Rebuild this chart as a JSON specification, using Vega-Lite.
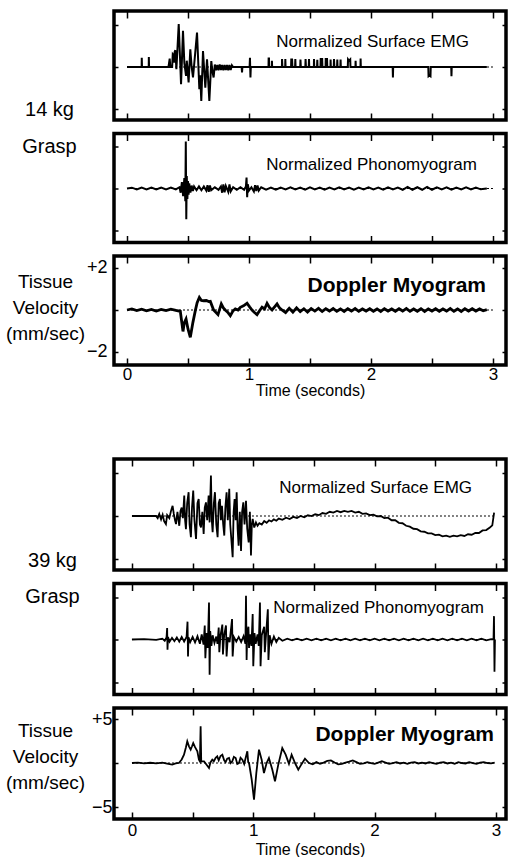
{
"$schema":"https://vega.github.io/schema/vega-lite/v6.json",
"padding":{"left":3,"top":8,"right":5,"bottom":0},
"spacing":56,
"datasets":{
"emg14":[{"t":0,"v":0},{"t":0.06,"v":0},{"t":0.12,"v":0},{"t":0.121,"v":0.22},{"t":0.123,"v":0},{"t":0.178,"v":0},{"t":0.179,"v":0.24},{"t":0.181,"v":0},{"t":0.34,"v":0},{"t":0.35,"v":0.2},{"t":0.355,"v":0},{"t":0.37,"v":0},{"t":0.375,"v":0.3},{"t":0.38,"v":0.28},{"t":0.385,"v":0.1},{"t":0.39,"v":0.35},{"t":0.396,"v":0.4},{"t":0.405,"v":-0.05},{"t":0.424,"v":1.02},{"t":0.443,"v":-0.41},{"t":0.459,"v":0.86},{"t":0.47,"v":0.1},{"t":0.484,"v":-0.21},{"t":0.49,"v":0.15},{"t":0.505,"v":-0.37},{"t":0.519,"v":0.42},{"t":0.53,"v":0},{"t":0.541,"v":-0.25},{"t":0.555,"v":0.2},{"t":0.574,"v":0.82},{"t":0.593,"v":-0.53},{"t":0.6,"v":-0.2},{"t":0.609,"v":-0.81},{"t":0.623,"v":0.38},{"t":0.642,"v":-0.49},{"t":0.656,"v":0.18},{"t":0.675,"v":-0.81},{"t":0.691,"v":0.14},{"t":0.7,"v":-0.1},{"t":0.71,"v":-0.25},{"t":0.72,"v":0.06},{"t":0.73,"v":-0.08},{"t":0.74,"v":0.05},{"t":0.75,"v":-0.08},{"t":0.76,"v":0.06},{"t":0.77,"v":-0.07},{"t":0.78,"v":0.05},{"t":0.79,"v":-0.08},{"t":0.8,"v":0.05},{"t":0.81,"v":-0.07},{"t":0.82,"v":0.05},{"t":0.83,"v":-0.08},{"t":0.84,"v":0.05},{"t":0.85,"v":-0.07},{"t":0.86,"v":0.04},{"t":0.87,"v":0},{"t":0.94,"v":0},{"t":0.943,"v":-0.13},{"t":0.946,"v":0},{"t":1.005,"v":0},{"t":1.008,"v":0.22},{"t":1.012,"v":-0.25},{"t":1.015,"v":0},{"t":1.16,"v":0},{"t":1.161,"v":0.2},{"t":1.164,"v":0.2},{"t":1.165,"v":0},{"t":1.187,"v":0},{"t":1.188,"v":0.15},{"t":1.19,"v":0},{"t":1.27,"v":0},{"t":1.271,"v":0.19},{"t":1.274,"v":0},{"t":1.297,"v":0},{"t":1.298,"v":0.19},{"t":1.3,"v":0},{"t":1.345,"v":0},{"t":1.347,"v":0.2},{"t":1.35,"v":0.05},{"t":1.353,"v":0.2},{"t":1.356,"v":0},{"t":1.378,"v":0},{"t":1.38,"v":0.19},{"t":1.382,"v":0},{"t":1.42,"v":0},{"t":1.422,"v":0.18},{"t":1.425,"v":0},{"t":1.462,"v":0},{"t":1.464,"v":0.19},{"t":1.467,"v":0},{"t":1.49,"v":0},{"t":1.492,"v":0.19},{"t":1.494,"v":0},{"t":1.532,"v":0},{"t":1.533,"v":0.19},{"t":1.535,"v":0},{"t":1.558,"v":0},{"t":1.56,"v":0.17},{"t":1.562,"v":0},{"t":1.586,"v":0},{"t":1.588,"v":0.19},{"t":1.6,"v":0.19},{"t":1.602,"v":0},{"t":1.628,"v":0},{"t":1.629,"v":0.19},{"t":1.64,"v":0.19},{"t":1.642,"v":0},{"t":1.668,"v":0},{"t":1.669,"v":0.18},{"t":1.671,"v":0},{"t":1.695,"v":0},{"t":1.697,"v":0.19},{"t":1.7,"v":0},{"t":1.722,"v":0},{"t":1.724,"v":0.18},{"t":1.726,"v":0},{"t":1.749,"v":0},{"t":1.751,"v":0.18},{"t":1.753,"v":0},{"t":1.81,"v":0},{"t":1.812,"v":0.18},{"t":1.82,"v":0.15},{"t":1.83,"v":0.18},{"t":1.832,"v":0},{"t":1.873,"v":0},{"t":1.874,"v":0.15},{"t":1.876,"v":0},{"t":1.914,"v":0},{"t":1.915,"v":0.2},{"t":1.917,"v":0},{"t":2.178,"v":0},{"t":2.18,"v":-0.25},{"t":2.182,"v":0},{"t":2.47,"v":0},{"t":2.472,"v":-0.22},{"t":2.48,"v":-0.2},{"t":2.488,"v":-0.22},{"t":2.49,"v":0},{"t":2.658,"v":0},{"t":2.66,"v":-0.22},{"t":2.662,"v":0},{"t":2.95,"v":0}],
"pmg14":[{"t":0,"v":0},{"t":0.04,"v":0.02},{"t":0.08,"v":-0.02},{"t":0.12,"v":0.02},{"t":0.16,"v":-0.02},{"t":0.2,"v":0.02},{"t":0.24,"v":-0.02},{"t":0.28,"v":0.02},{"t":0.32,"v":-0.02},{"t":0.36,"v":0.02},{"t":0.4,"v":-0.02},{"t":0.43,"v":0.03},{"t":0.44,"v":-0.1},{"t":0.45,"v":0.15},{"t":0.46,"v":-0.18},{"t":0.47,"v":0.25},{"t":0.478,"v":-0.3},{"t":0.482,"v":1.12},{"t":0.486,"v":-0.73},{"t":0.49,"v":0.3},{"t":0.495,"v":-0.25},{"t":0.5,"v":0.18},{"t":0.505,"v":-0.15},{"t":0.51,"v":0.12},{"t":0.52,"v":-0.1},{"t":0.53,"v":0.07},{"t":0.54,"v":-0.06},{"t":0.55,"v":0.05},{"t":0.57,"v":-0.04},{"t":0.59,"v":0.05},{"t":0.61,"v":-0.04},{"t":0.63,"v":0.05},{"t":0.65,"v":-0.05},{"t":0.66,"v":0.08},{"t":0.67,"v":-0.08},{"t":0.68,"v":0.07},{"t":0.69,"v":-0.04},{"t":0.72,"v":0.03},{"t":0.75,"v":-0.03},{"t":0.77,"v":0.05},{"t":0.78,"v":-0.1},{"t":0.79,"v":0.1},{"t":0.8,"v":-0.09},{"t":0.81,"v":0.06},{"t":0.83,"v":-0.08},{"t":0.84,"v":0.1},{"t":0.85,"v":-0.07},{"t":0.87,"v":0.03},{"t":0.9,"v":-0.03},{"t":0.93,"v":0.03},{"t":0.96,"v":-0.03},{"t":0.975,"v":0.05},{"t":0.98,"v":0.26},{"t":0.985,"v":-0.21},{"t":0.99,"v":0.1},{"t":1.0,"v":-0.05},{"t":1.02,"v":0.03},{"t":1.04,"v":-0.07},{"t":1.05,"v":0.08},{"t":1.06,"v":-0.06},{"t":1.07,"v":0.07},{"t":1.08,"v":-0.05},{"t":1.1,"v":0.03},{"t":1.14,"v":-0.03},{"t":1.18,"v":0.02},{"t":1.22,"v":-0.03},{"t":1.26,"v":0.02},{"t":1.3,"v":-0.02},{"t":1.34,"v":0.03},{"t":1.38,"v":-0.02},{"t":1.42,"v":0.02},{"t":1.46,"v":-0.03},{"t":1.5,"v":0.03},{"t":1.54,"v":-0.02},{"t":1.58,"v":0.02},{"t":1.62,"v":-0.03},{"t":1.66,"v":0.02},{"t":1.7,"v":-0.02},{"t":1.74,"v":0.03},{"t":1.78,"v":-0.02},{"t":1.82,"v":0.02},{"t":1.86,"v":-0.03},{"t":1.9,"v":0.02},{"t":1.94,"v":-0.02},{"t":1.98,"v":0.03},{"t":2.02,"v":-0.02},{"t":2.06,"v":0.02},{"t":2.1,"v":-0.03},{"t":2.14,"v":0.03},{"t":2.18,"v":-0.02},{"t":2.22,"v":0.02},{"t":2.26,"v":-0.03},{"t":2.3,"v":0.04},{"t":2.34,"v":-0.03},{"t":2.38,"v":0.03},{"t":2.42,"v":-0.03},{"t":2.46,"v":0.04},{"t":2.5,"v":-0.03},{"t":2.54,"v":0.03},{"t":2.58,"v":-0.02},{"t":2.62,"v":0.03},{"t":2.66,"v":-0.03},{"t":2.7,"v":0.02},{"t":2.74,"v":-0.02},{"t":2.78,"v":0.03},{"t":2.82,"v":-0.02},{"t":2.86,"v":0.02},{"t":2.9,"v":-0.02},{"t":2.95,"v":0}],
"dop14":[{"t":0,"v":0},{"t":0.04,"v":0.05},{"t":0.08,"v":-0.03},{"t":0.12,"v":0.04},{"t":0.16,"v":-0.04},{"t":0.2,"v":0.03},{"t":0.24,"v":-0.05},{"t":0.28,"v":0.03},{"t":0.32,"v":-0.03},{"t":0.36,"v":0.04},{"t":0.4,"v":-0.02},{"t":0.437,"v":-0.06},{"t":0.459,"v":-1.02},{"t":0.47,"v":-0.6},{"t":0.484,"v":-0.43},{"t":0.5,"v":-0.9},{"t":0.519,"v":-1.3},{"t":0.54,"v":-0.6},{"t":0.56,"v":-0.03},{"t":0.575,"v":0.35},{"t":0.593,"v":0.6},{"t":0.61,"v":0.45},{"t":0.628,"v":0.44},{"t":0.65,"v":0.45},{"t":0.67,"v":0.4},{"t":0.683,"v":0.41},{"t":0.71,"v":0},{"t":0.746,"v":-0.22},{"t":0.773,"v":0.29},{"t":0.79,"v":0.1},{"t":0.805,"v":0},{"t":0.825,"v":-0.1},{"t":0.847,"v":-0.27},{"t":0.868,"v":-0.05},{"t":0.888,"v":0.05},{"t":0.91,"v":0},{"t":0.929,"v":0.13},{"t":0.955,"v":0.2},{"t":0.984,"v":0.32},{"t":1.005,"v":0.15},{"t":1.025,"v":0},{"t":1.045,"v":-0.12},{"t":1.066,"v":-0.22},{"t":1.085,"v":-0.05},{"t":1.107,"v":0.13},{"t":1.128,"v":0.05},{"t":1.148,"v":0.32},{"t":1.17,"v":0.1},{"t":1.189,"v":0},{"t":1.21,"v":0.15},{"t":1.23,"v":0.29},{"t":1.25,"v":0.1},{"t":1.27,"v":0},{"t":1.3,"v":-0.12},{"t":1.33,"v":0.08},{"t":1.36,"v":-0.1},{"t":1.39,"v":0.1},{"t":1.42,"v":-0.08},{"t":1.45,"v":0.06},{"t":1.48,"v":-0.1},{"t":1.51,"v":0.07},{"t":1.54,"v":-0.05},{"t":1.57,"v":0.08},{"t":1.6,"v":-0.07},{"t":1.63,"v":0.06},{"t":1.66,"v":-0.05},{"t":1.69,"v":0.07},{"t":1.72,"v":-0.06},{"t":1.75,"v":0.05},{"t":1.78,"v":-0.07},{"t":1.81,"v":0.06},{"t":1.84,"v":-0.05},{"t":1.87,"v":0.07},{"t":1.9,"v":-0.06},{"t":1.93,"v":0.05},{"t":1.96,"v":-0.05},{"t":1.99,"v":0.06},{"t":2.02,"v":-0.06},{"t":2.05,"v":0.05},{"t":2.08,"v":-0.07},{"t":2.11,"v":0.06},{"t":2.14,"v":-0.05},{"t":2.17,"v":0.05},{"t":2.2,"v":-0.06},{"t":2.23,"v":0.06},{"t":2.26,"v":-0.05},{"t":2.29,"v":0.07},{"t":2.32,"v":-0.06},{"t":2.35,"v":0.05},{"t":2.38,"v":-0.06},{"t":2.41,"v":0.06},{"t":2.44,"v":-0.07},{"t":2.47,"v":0.05},{"t":2.5,"v":-0.05},{"t":2.53,"v":0.06},{"t":2.56,"v":-0.06},{"t":2.59,"v":0.05},{"t":2.62,"v":-0.05},{"t":2.65,"v":0.07},{"t":2.68,"v":-0.06},{"t":2.71,"v":0.05},{"t":2.74,"v":-0.07},{"t":2.77,"v":0.06},{"t":2.8,"v":-0.05},{"t":2.83,"v":0.06},{"t":2.86,"v":-0.05},{"t":2.89,"v":0.05},{"t":2.92,"v":-0.04},{"t":2.95,"v":0.02}],
"emg39":[{"t":0,"v":0},{"t":0.1,"v":0},{"t":0.198,"v":0},{"t":0.212,"v":-0.05},{"t":0.225,"v":0.05},{"t":0.24,"v":-0.08},{"t":0.253,"v":0.03},{"t":0.265,"v":-0.12},{"t":0.28,"v":-0.19},{"t":0.29,"v":0.02},{"t":0.308,"v":-0.05},{"t":0.322,"v":0.12},{"t":0.335,"v":0.24},{"t":0.345,"v":0.05},{"t":0.355,"v":-0.1},{"t":0.363,"v":-0.19},{"t":0.375,"v":0.1},{"t":0.39,"v":-0.23},{"t":0.4,"v":0.12},{"t":0.41,"v":0.2},{"t":0.42,"v":-0.05},{"t":0.431,"v":0.48},{"t":0.438,"v":-0.1},{"t":0.445,"v":-0.31},{"t":0.455,"v":0.3},{"t":0.467,"v":0.56},{"t":0.475,"v":-0.2},{"t":0.486,"v":-0.5},{"t":0.495,"v":0.2},{"t":0.505,"v":0.6},{"t":0.515,"v":-0.1},{"t":0.528,"v":-0.54},{"t":0.54,"v":0.3},{"t":0.55,"v":0.4},{"t":0.56,"v":-0.2},{"t":0.569,"v":-0.27},{"t":0.58,"v":0.1},{"t":0.591,"v":-0.42},{"t":0.6,"v":0.2},{"t":0.61,"v":0.32},{"t":0.62,"v":-0.1},{"t":0.632,"v":0.48},{"t":0.64,"v":-0.15},{"t":0.651,"v":0.95},{"t":0.658,"v":-0.1},{"t":0.665,"v":-0.38},{"t":0.675,"v":0.3},{"t":0.684,"v":0.56},{"t":0.695,"v":-0.2},{"t":0.706,"v":-0.5},{"t":0.715,"v":0.3},{"t":0.725,"v":0.4},{"t":0.733,"v":-0.1},{"t":0.742,"v":0.24},{"t":0.752,"v":-0.2},{"t":0.761,"v":-0.46},{"t":0.77,"v":0.2},{"t":0.78,"v":0.56},{"t":0.79,"v":-0.1},{"t":0.802,"v":0.64},{"t":0.81,"v":-0.2},{"t":0.819,"v":-0.54},{"t":0.83,"v":-0.97},{"t":0.838,"v":0.1},{"t":0.846,"v":0.4},{"t":0.855,"v":-0.1},{"t":0.863,"v":0.56},{"t":0.871,"v":-0.3},{"t":0.879,"v":-0.7},{"t":0.889,"v":0.1},{"t":0.899,"v":-0.82},{"t":0.908,"v":0.1},{"t":0.918,"v":0.32},{"t":0.928,"v":-0.2},{"t":0.94,"v":0.36},{"t":0.95,"v":-0.3},{"t":0.962,"v":-0.62},{"t":0.972,"v":0.1},{"t":0.981,"v":-0.93},{"t":0.988,"v":-0.2},{"t":0.995,"v":-0.07},{"t":1.008,"v":-0.27},{"t":1.022,"v":-0.15},{"t":1.035,"v":-0.23},{"t":1.05,"v":-0.17},{"t":1.07,"v":-0.2},{"t":1.09,"v":-0.12},{"t":1.11,"v":-0.16},{"t":1.13,"v":-0.1},{"t":1.15,"v":-0.13},{"t":1.17,"v":-0.08},{"t":1.19,"v":-0.11},{"t":1.21,"v":-0.06},{"t":1.24,"v":-0.09},{"t":1.27,"v":-0.04},{"t":1.3,"v":-0.07},{"t":1.33,"v":-0.02},{"t":1.36,"v":-0.05},{"t":1.39,"v":0},{"t":1.42,"v":-0.03},{"t":1.45,"v":0.02},{"t":1.48,"v":0},{"t":1.51,"v":0.04},{"t":1.54,"v":0.02},{"t":1.57,"v":0.07},{"t":1.6,"v":0.05},{"t":1.63,"v":0.1},{"t":1.66,"v":0.08},{"t":1.69,"v":0.12},{"t":1.72,"v":0.09},{"t":1.75,"v":0.12},{"t":1.78,"v":0.1},{"t":1.81,"v":0.12},{"t":1.84,"v":0.08},{"t":1.87,"v":0.1},{"t":1.9,"v":0.05},{"t":1.93,"v":0.06},{"t":1.96,"v":0.02},{"t":1.99,"v":0.03},{"t":2.02,"v":-0.01},{"t":2.05,"v":0},{"t":2.08,"v":-0.05},{"t":2.11,"v":-0.04},{"t":2.14,"v":-0.1},{"t":2.17,"v":-0.1},{"t":2.2,"v":-0.16},{"t":2.23,"v":-0.17},{"t":2.26,"v":-0.23},{"t":2.29,"v":-0.25},{"t":2.32,"v":-0.3},{"t":2.35,"v":-0.31},{"t":2.38,"v":-0.36},{"t":2.41,"v":-0.37},{"t":2.44,"v":-0.41},{"t":2.47,"v":-0.41},{"t":2.5,"v":-0.45},{"t":2.53,"v":-0.44},{"t":2.56,"v":-0.48},{"t":2.59,"v":-0.46},{"t":2.62,"v":-0.49},{"t":2.65,"v":-0.46},{"t":2.68,"v":-0.48},{"t":2.71,"v":-0.45},{"t":2.74,"v":-0.47},{"t":2.77,"v":-0.43},{"t":2.8,"v":-0.44},{"t":2.83,"v":-0.4},{"t":2.86,"v":-0.4},{"t":2.89,"v":-0.34},{"t":2.92,"v":-0.33},{"t":2.95,"v":-0.27},{"t":2.97,"v":-0.22},{"t":2.985,"v":0.08}],
"pmg39":[{"t":0,"v":0},{"t":0.1,"v":0.01},{"t":0.2,"v":-0.01},{"t":0.25,"v":0.02},{"t":0.27,"v":-0.03},{"t":0.285,"v":0.05},{"t":0.29,"v":0.27},{"t":0.293,"v":-0.24},{"t":0.297,"v":0.06},{"t":0.31,"v":-0.05},{"t":0.33,"v":0.04},{"t":0.35,"v":-0.04},{"t":0.37,"v":0.05},{"t":0.39,"v":-0.05},{"t":0.41,"v":0.06},{"t":0.43,"v":-0.05},{"t":0.45,"v":0.06},{"t":0.458,"v":0.42},{"t":0.462,"v":-0.4},{"t":0.466,"v":0.05},{"t":0.48,"v":-0.06},{"t":0.5,"v":0.06},{"t":0.52,"v":-0.07},{"t":0.54,"v":0.08},{"t":0.56,"v":-0.1},{"t":0.575,"v":0.12},{"t":0.59,"v":-0.12},{"t":0.6,"v":0.33},{"t":0.605,"v":-0.44},{"t":0.615,"v":0.15},{"t":0.625,"v":-0.2},{"t":0.635,"v":0.87},{"t":0.64,"v":-0.83},{"t":0.645,"v":0.2},{"t":0.655,"v":-0.15},{"t":0.665,"v":0.1},{"t":0.68,"v":-0.08},{"t":0.695,"v":0.07},{"t":0.705,"v":-0.1},{"t":0.715,"v":0.28},{"t":0.72,"v":-0.3},{"t":0.73,"v":0.1},{"t":0.745,"v":0.35},{"t":0.75,"v":-0.35},{"t":0.76,"v":0.1},{"t":0.775,"v":0.33},{"t":0.78,"v":-0.4},{"t":0.79,"v":0.05},{"t":0.805,"v":-0.06},{"t":0.825,"v":0.48},{"t":0.83,"v":-0.4},{"t":0.84,"v":0.06},{"t":0.86,"v":-0.05},{"t":0.88,"v":0.06},{"t":0.9,"v":-0.06},{"t":0.92,"v":0.08},{"t":0.935,"v":-0.1},{"t":0.94,"v":1.03},{"t":0.945,"v":-0.48},{"t":0.95,"v":0.15},{"t":0.96,"v":0.3},{"t":0.965,"v":-0.2},{"t":0.975,"v":0.12},{"t":0.985,"v":-0.15},{"t":0.995,"v":0.6},{"t":1.0,"v":-0.63},{"t":1.01,"v":0.15},{"t":1.02,"v":-0.1},{"t":1.035,"v":0.12},{"t":1.045,"v":-0.15},{"t":1.055,"v":0.87},{"t":1.06,"v":-0.63},{"t":1.07,"v":0.1},{"t":1.09,"v":0.3},{"t":1.095,"v":-0.3},{"t":1.105,"v":0.1},{"t":1.12,"v":0.71},{"t":1.125,"v":-0.48},{"t":1.135,"v":0.1},{"t":1.15,"v":-0.1},{"t":1.17,"v":0.07},{"t":1.19,"v":-0.06},{"t":1.21,"v":0.04},{"t":1.24,"v":-0.03},{"t":1.28,"v":0.02},{"t":1.32,"v":-0.02},{"t":1.36,"v":0.02},{"t":1.4,"v":-0.02},{"t":1.44,"v":0.02},{"t":1.48,"v":-0.02},{"t":1.52,"v":0.02},{"t":1.56,"v":-0.02},{"t":1.6,"v":0.02},{"t":1.64,"v":-0.02},{"t":1.68,"v":0.02},{"t":1.72,"v":-0.02},{"t":1.76,"v":0.02},{"t":1.8,"v":-0.02},{"t":1.84,"v":0.02},{"t":1.88,"v":-0.02},{"t":1.92,"v":0.02},{"t":1.96,"v":-0.02},{"t":2.0,"v":0.02},{"t":2.04,"v":-0.02},{"t":2.08,"v":0.02},{"t":2.12,"v":-0.02},{"t":2.16,"v":0.02},{"t":2.2,"v":-0.02},{"t":2.24,"v":0.02},{"t":2.28,"v":-0.02},{"t":2.32,"v":0.02},{"t":2.36,"v":-0.02},{"t":2.4,"v":0.02},{"t":2.44,"v":-0.02},{"t":2.48,"v":0.02},{"t":2.52,"v":-0.02},{"t":2.56,"v":0.02},{"t":2.6,"v":-0.02},{"t":2.64,"v":0.02},{"t":2.68,"v":-0.02},{"t":2.72,"v":0.02},{"t":2.76,"v":-0.02},{"t":2.8,"v":0.02},{"t":2.84,"v":-0.02},{"t":2.88,"v":0.02},{"t":2.92,"v":-0.02},{"t":2.96,"v":0.01},{"t":2.98,"v":0},{"t":2.984,"v":0.55},{"t":2.988,"v":-0.76},{"t":2.992,"v":0}],
"dop39":[{"t":0,"v":0},{"t":0.05,"v":0.05},{"t":0.1,"v":-0.05},{"t":0.15,"v":0.03},{"t":0.2,"v":-0.04},{"t":0.25,"v":0.05},{"t":0.3,"v":-0.1},{"t":0.332,"v":-0.19},{"t":0.36,"v":-0.05},{"t":0.387,"v":0},{"t":0.41,"v":0.4},{"t":0.429,"v":0.95},{"t":0.445,"v":1.8},{"t":0.456,"v":2.46},{"t":0.47,"v":1.9},{"t":0.484,"v":1.52},{"t":0.495,"v":1.9},{"t":0.505,"v":2.27},{"t":0.52,"v":1.8},{"t":0.539,"v":1.33},{"t":0.552,"v":0.38},{"t":0.56,"v":0.19},{"t":0.566,"v":4.17},{"t":0.571,"v":0.19},{"t":0.594,"v":0.19},{"t":0.615,"v":-0.2},{"t":0.635,"v":-0.57},{"t":0.648,"v":0.1},{"t":0.662,"v":0.38},{"t":0.675,"v":0.2},{"t":0.69,"v":0.6},{"t":0.703,"v":0.76},{"t":0.715,"v":0.3},{"t":0.73,"v":0.8},{"t":0.745,"v":0.95},{"t":0.76,"v":0.3},{"t":0.772,"v":0.1},{"t":0.785,"v":0.5},{"t":0.8,"v":0.57},{"t":0.813,"v":0},{"t":0.827,"v":0.19},{"t":0.84,"v":0.7},{"t":0.855,"v":0.57},{"t":0.868,"v":-0.1},{"t":0.882,"v":0},{"t":0.895,"v":0.6},{"t":0.91,"v":0.38},{"t":0.925,"v":-0.1},{"t":0.937,"v":0.57},{"t":0.951,"v":1.33},{"t":0.958,"v":0.1},{"t":0.965,"v":0},{"t":0.987,"v":-1.89},{"t":1.006,"v":-4.17},{"t":1.025,"v":-1.14},{"t":1.047,"v":1.52},{"t":1.069,"v":0.38},{"t":1.088,"v":-1.14},{"t":1.11,"v":0},{"t":1.129,"v":0.57},{"t":1.157,"v":-0.76},{"t":1.179,"v":-2.08},{"t":1.206,"v":-0.19},{"t":1.239,"v":1.7},{"t":1.267,"v":0.95},{"t":1.294,"v":-0.1},{"t":1.316,"v":0.95},{"t":1.344,"v":0},{"t":1.371,"v":-0.76},{"t":1.399,"v":-0.1},{"t":1.426,"v":0.49},{"t":1.459,"v":0},{"t":1.49,"v":-0.15},{"t":1.52,"v":0.1},{"t":1.55,"v":-0.1},{"t":1.58,"v":0.05},{"t":1.61,"v":0.25},{"t":1.64,"v":0.3},{"t":1.67,"v":0.05},{"t":1.7,"v":-0.15},{"t":1.73,"v":-0.1},{"t":1.76,"v":0.05},{"t":1.79,"v":0.15},{"t":1.82,"v":0.3},{"t":1.85,"v":0.1},{"t":1.88,"v":-0.1},{"t":1.91,"v":-0.05},{"t":1.94,"v":0.1},{"t":1.97,"v":0},{"t":2.0,"v":-0.1},{"t":2.03,"v":0.05},{"t":2.06,"v":0.2},{"t":2.09,"v":0.05},{"t":2.12,"v":-0.1},{"t":2.15,"v":0},{"t":2.18,"v":0.1},{"t":2.21,"v":-0.05},{"t":2.24,"v":0.05},{"t":2.27,"v":-0.1},{"t":2.3,"v":0.05},{"t":2.33,"v":0.1},{"t":2.36,"v":-0.05},{"t":2.39,"v":0.05},{"t":2.42,"v":-0.05},{"t":2.45,"v":0.1},{"t":2.48,"v":0},{"t":2.51,"v":-0.1},{"t":2.54,"v":0.05},{"t":2.57,"v":0.1},{"t":2.6,"v":-0.05},{"t":2.63,"v":0.05},{"t":2.66,"v":-0.1},{"t":2.69,"v":0.1},{"t":2.72,"v":0},{"t":2.75,"v":-0.05},{"t":2.78,"v":0.1},{"t":2.81,"v":0},{"t":2.84,"v":-0.1},{"t":2.87,"v":0.05},{"t":2.9,"v":0.1},{"t":2.93,"v":0},{"t":2.96,"v":-0.05},{"t":2.99,"v":0.05}]
},
"vconcat":[
{"spacing":7.5,"vconcat":[
{"width":392,"height":109,"resolve":{"axis":{"x":"independent","y":"independent"}},"layer":[
 {"data":{"values":[{}]},"mark":{"type":"rule","strokeDash":[2,2],"strokeWidth":1.2,"color":"black"},"encoding":{
  "x":{"datum":0,"type":"quantitative","scale":{"domain":[-0.1066,3.107],"nice":false,"zero":false},"axis":{"orient":"top","values":[0,0.5,1,1.5,2,2.5,3],"tickSize":-7,"tickWidth":1.5,"tickColor":"black","labels":false,"domain":false,"grid":false,"title":null}},
  "x2":{"datum":3},
  "y":{"datum":0,"type":"quantitative","scale":{"domain":[-1.262,1.333],"nice":false,"zero":false},"axis":{"orient":"right","values":[-1,0,1],"tickSize":-4,"tickWidth":1.5,"tickColor":"black","labels":false,"domain":false,"grid":false,"title":null}}}},
 {"data":{"name":"emg14"},"mark":{"type":"line","color":"black","strokeWidth":2},"encoding":{
  "x":{"field":"t","type":"quantitative","scale":{"domain":[-0.1066,3.107],"nice":false,"zero":false},"axis":{"orient":"bottom","values":[0,0.5,1,1.5,2,2.5,3],"tickSize":-7,"tickWidth":1.5,"tickColor":"black","labels":false,"domain":false,"grid":false,"title":null}},
  "y":{"field":"v","type":"quantitative","scale":{"domain":[-1.262,1.333],"nice":false,"zero":false},"axis":{"orient":"left","values":[-1,0,1],"tickSize":-4,"tickWidth":1.5,"tickColor":"black","labels":false,"domain":false,"grid":false,"title":"14 kg","titleAngle":0,"titleAlign":"center","titleBaseline":"alphabetic","titleX":-65,"titleY":104.5,"titleFont":"Liberation Sans","titleFontSize":20,"titleFontWeight":"normal","titleColor":"black"}}}},
 {"data":{"values":[{}]},"mark":{"type":"text","align":"right","baseline":"alphabetic","font":"Liberation Sans","fontSize":17,"color":"black"},"encoding":{
  "x":{"datum":2.803,"type":"quantitative","scale":{"domain":[-0.1066,3.107],"nice":false,"zero":false},"axis":null},
  "y":{"datum":0.476,"type":"quantitative","scale":{"domain":[-1.262,1.333],"nice":false,"zero":false},"axis":null},
  "text":{"value":"Normalized Surface EMG"}}}
]},
{"width":392,"height":109,"resolve":{"axis":{"x":"independent","y":"independent"}},"layer":[
 {"data":{"values":[{}]},"mark":{"type":"rule","strokeDash":[2,2],"strokeWidth":1.2,"color":"black"},"encoding":{
  "x":{"datum":0,"type":"quantitative","scale":{"domain":[-0.1066,3.107],"nice":false,"zero":false},"axis":{"orient":"top","values":[0,0.5,1,1.5,2,2.5,3],"tickSize":-7,"tickWidth":1.5,"tickColor":"black","labels":false,"domain":false,"grid":false,"title":null}},
  "x2":{"datum":3},
  "y":{"datum":0,"type":"quantitative","scale":{"domain":[-1.286,1.31],"nice":false,"zero":false},"axis":{"orient":"right","values":[-1,0,1],"tickSize":-4,"tickWidth":1.5,"tickColor":"black","labels":false,"domain":false,"grid":false,"title":null}}}},
 {"data":{"name":"pmg14"},"mark":{"type":"line","color":"black","strokeWidth":2},"encoding":{
  "x":{"field":"t","type":"quantitative","scale":{"domain":[-0.1066,3.107],"nice":false,"zero":false},"axis":{"orient":"bottom","values":[0,0.5,1,1.5,2,2.5,3],"tickSize":-7,"tickWidth":1.5,"tickColor":"black","labels":false,"domain":false,"grid":false,"title":null}},
  "y":{"field":"v","type":"quantitative","scale":{"domain":[-1.286,1.31],"nice":false,"zero":false},"axis":{"orient":"left","values":[-1,0,1],"tickSize":-4,"tickWidth":1.5,"tickColor":"black","labels":false,"domain":false,"grid":false,"title":"Grasp","titleAngle":0,"titleAlign":"center","titleBaseline":"alphabetic","titleX":-65,"titleY":18.5,"titleFont":"Liberation Sans","titleFontSize":20,"titleFontWeight":"normal","titleColor":"black"}}}},
 {"data":{"values":[{}]},"mark":{"type":"text","align":"right","baseline":"alphabetic","font":"Liberation Sans","fontSize":17,"color":"black"},"encoding":{
  "x":{"datum":2.869,"type":"quantitative","scale":{"domain":[-0.1066,3.107],"nice":false,"zero":false},"axis":null},
  "y":{"datum":0.433,"type":"quantitative","scale":{"domain":[-1.286,1.31],"nice":false,"zero":false},"axis":null},
  "text":{"value":"Normalized Phonomyogram"}}}
]},
{"width":392,"height":109,"resolve":{"axis":{"x":"independent","y":"independent"}},"layer":[
 {"data":{"values":[{}]},"mark":{"type":"rule","strokeDash":[2,2],"strokeWidth":1.2,"color":"black"},"encoding":{
  "x":{"datum":0,"type":"quantitative","scale":{"domain":[-0.1066,3.107],"nice":false,"zero":false},"axis":{"orient":"top","values":[0,0.5,1,1.5,2,2.5,3],"tickSize":-7,"tickWidth":1.5,"tickColor":"black","labels":false,"domain":false,"grid":false,"title":null}},
  "x2":{"datum":3},
  "y":{"datum":0,"type":"quantitative","scale":{"domain":[-2.619,2.571],"nice":false,"zero":false},"axis":{"orient":"right","values":[-2,0,2],"tickSize":-4,"tickWidth":1.5,"tickColor":"black","labels":false,"domain":false,"grid":false,"title":null}}}},
 {"data":{"name":"dop14"},"mark":{"type":"line","color":"black","strokeWidth":2.8},"encoding":{
  "x":{"field":"t","type":"quantitative","scale":{"domain":[-0.1066,3.107],"nice":false,"zero":false},"axis":{"orient":"bottom","values":[0,0.5,1,1.5,2,2.5,3],"tickSize":-7,"tickWidth":1.5,"tickColor":"black","labels":true,"labelExpr":"datum.value % 1 === 0 ? '' + datum.value : ''","labelFont":"Liberation Sans","labelFontSize":17,"labelColor":"black","labelPadding":8,"labelFlush":false,"domain":false,"grid":false,"title":"Time (seconds)","titleFont":"Liberation Sans","titleFontSize":16,"titleFontWeight":"normal","titleColor":"black","titlePadding":0}},
  "y":{"field":"v","type":"quantitative","scale":{"domain":[-2.619,2.571],"nice":false,"zero":false},"axis":{"orient":"left","values":[-2,0,2],"tickSize":-4,"tickWidth":1.5,"tickColor":"black","labels":true,"labelExpr":"datum.value > 0 ? '+' + datum.value : (datum.value < 0 ? '\u2212' + abs(datum.value) : '')","labelFont":"Liberation Sans","labelFontSize":18,"labelColor":"black","labelPadding":11,"labelFlush":false,"domain":false,"grid":false,"title":["Tissue","Velocity","(mm/sec)"],"titleAngle":0,"titleAlign":"center","titleBaseline":"alphabetic","titleX":-69,"titleY":31,"titleFont":"Liberation Sans","titleFontSize":19,"titleFontWeight":"normal","titleColor":"black","titleLineHeight":26}}}},
 {"data":{"values":[{}]},"mark":{"type":"text","align":"right","baseline":"alphabetic","font":"Liberation Sans","fontSize":21,"fontWeight":"bold","color":"black"},"encoding":{
  "x":{"datum":2.943,"type":"quantitative","scale":{"domain":[-0.1066,3.107],"nice":false,"zero":false},"axis":null},
  "y":{"datum":0.85,"type":"quantitative","scale":{"domain":[-2.619,2.571],"nice":false,"zero":false},"axis":null},
  "text":{"value":"Doppler Myogram"}}}
]}
]},
{"spacing":7.5,"vconcat":[
{"width":392,"height":111,"resolve":{"axis":{"x":"independent","y":"independent"}},"layer":[
 {"data":{"values":[{}]},"mark":{"type":"rule","strokeDash":[2,2],"strokeWidth":1.2,"color":"black"},"encoding":{
  "x":{"datum":0,"type":"quantitative","scale":{"domain":[-0.148,3.083],"nice":false,"zero":false},"axis":{"orient":"top","values":[0,0.5,1,1.5,2,2.5,3],"tickSize":-7,"tickWidth":1.5,"tickColor":"black","labels":false,"domain":false,"grid":false,"title":null}},
  "x2":{"datum":3},
  "y":{"datum":0,"type":"quantitative","scale":{"domain":[-1.27,1.341],"nice":false,"zero":false},"axis":{"orient":"right","values":[-1,0,1],"tickSize":-4,"tickWidth":1.5,"tickColor":"black","labels":false,"domain":false,"grid":false,"title":null}}}},
 {"data":{"name":"emg39"},"mark":{"type":"line","color":"black","strokeWidth":1.8},"encoding":{
  "x":{"field":"t","type":"quantitative","scale":{"domain":[-0.148,3.083],"nice":false,"zero":false},"axis":{"orient":"bottom","values":[0,0.5,1,1.5,2,2.5,3],"tickSize":-7,"tickWidth":1.5,"tickColor":"black","labels":false,"domain":false,"grid":false,"title":null}},
  "y":{"field":"v","type":"quantitative","scale":{"domain":[-1.27,1.341],"nice":false,"zero":false},"axis":{"orient":"left","values":[-1,0,1],"tickSize":-4,"tickWidth":1.5,"tickColor":"black","labels":false,"domain":false,"grid":false,"title":"39 kg","titleAngle":0,"titleAlign":"center","titleBaseline":"alphabetic","titleX":-62,"titleY":107,"titleFont":"Liberation Sans","titleFontSize":20,"titleFontWeight":"normal","titleColor":"black"}}}},
 {"data":{"values":[{}]},"mark":{"type":"text","align":"right","baseline":"alphabetic","font":"Liberation Sans","fontSize":17,"color":"black"},"encoding":{
  "x":{"datum":2.803,"type":"quantitative","scale":{"domain":[-0.148,3.083],"nice":false,"zero":false},"axis":null},
  "y":{"datum":0.546,"type":"quantitative","scale":{"domain":[-1.27,1.341],"nice":false,"zero":false},"axis":null},
  "text":{"value":"Normalized Surface EMG"}}}
]},
{"width":392,"height":111,"resolve":{"axis":{"x":"independent","y":"independent"}},"layer":[
 {"data":{"values":[{}]},"mark":{"type":"rule","strokeDash":[2,2],"strokeWidth":1.2,"color":"black"},"encoding":{
  "x":{"datum":0,"type":"quantitative","scale":{"domain":[-0.148,3.083],"nice":false,"zero":false},"axis":{"orient":"top","values":[0,0.5,1,1.5,2,2.5,3],"tickSize":-7,"tickWidth":1.5,"tickColor":"black","labels":false,"domain":false,"grid":false,"title":null}},
  "x2":{"datum":3},
  "y":{"datum":0,"type":"quantitative","scale":{"domain":[-1.294,1.318],"nice":false,"zero":false},"axis":{"orient":"right","values":[-1,0,1],"tickSize":-4,"tickWidth":1.5,"tickColor":"black","labels":false,"domain":false,"grid":false,"title":null}}}},
 {"data":{"name":"pmg39"},"mark":{"type":"line","color":"black","strokeWidth":1.8},"encoding":{
  "x":{"field":"t","type":"quantitative","scale":{"domain":[-0.148,3.083],"nice":false,"zero":false},"axis":{"orient":"bottom","values":[0,0.5,1,1.5,2,2.5,3],"tickSize":-7,"tickWidth":1.5,"tickColor":"black","labels":false,"domain":false,"grid":false,"title":null}},
  "y":{"field":"v","type":"quantitative","scale":{"domain":[-1.294,1.318],"nice":false,"zero":false},"axis":{"orient":"left","values":[-1,0,1],"tickSize":-4,"tickWidth":1.5,"tickColor":"black","labels":false,"domain":false,"grid":false,"title":"Grasp","titleAngle":0,"titleAlign":"center","titleBaseline":"alphabetic","titleX":-62,"titleY":18.5,"titleFont":"Liberation Sans","titleFontSize":20,"titleFontWeight":"normal","titleColor":"black"}}}},
 {"data":{"values":[{}]},"mark":{"type":"text","align":"right","baseline":"alphabetic","font":"Liberation Sans","fontSize":17,"color":"black"},"encoding":{
  "x":{"datum":2.902,"type":"quantitative","scale":{"domain":[-0.148,3.083],"nice":false,"zero":false},"axis":null},
  "y":{"datum":0.635,"type":"quantitative","scale":{"domain":[-1.294,1.318],"nice":false,"zero":false},"axis":null},
  "text":{"value":"Normalized Phonomyogram"}}}
]},
{"width":392,"height":111,"resolve":{"axis":{"x":"independent","y":"independent"}},"layer":[
 {"data":{"values":[{}]},"mark":{"type":"rule","strokeDash":[2,2],"strokeWidth":1.2,"color":"black"},"encoding":{
  "x":{"datum":0,"type":"quantitative","scale":{"domain":[-0.148,3.083],"nice":false,"zero":false},"axis":{"orient":"top","values":[0,0.5,1,1.5,2,2.5,3],"tickSize":-7,"tickWidth":1.5,"tickColor":"black","labels":false,"domain":false,"grid":false,"title":null}},
  "x2":{"datum":3},
  "y":{"datum":0,"type":"quantitative","scale":{"domain":[-6.36,6.25],"nice":false,"zero":false},"axis":{"orient":"right","values":[-5,0,5],"tickSize":-4,"tickWidth":1.5,"tickColor":"black","labels":false,"domain":false,"grid":false,"title":null}}}},
 {"data":{"name":"dop39"},"mark":{"type":"line","color":"black","strokeWidth":1.8},"encoding":{
  "x":{"field":"t","type":"quantitative","scale":{"domain":[-0.148,3.083],"nice":false,"zero":false},"axis":{"orient":"bottom","values":[0,0.5,1,1.5,2,2.5,3],"tickSize":-7,"tickWidth":1.5,"tickColor":"black","labels":true,"labelExpr":"datum.value % 1 === 0 ? '' + datum.value : ''","labelFont":"Liberation Sans","labelFontSize":17,"labelColor":"black","labelPadding":10,"labelFlush":false,"domain":false,"grid":false,"title":"Time (seconds)","titleFont":"Liberation Sans","titleFontSize":16,"titleFontWeight":"normal","titleColor":"black","titlePadding":3}},
  "y":{"field":"v","type":"quantitative","scale":{"domain":[-6.36,6.25],"nice":false,"zero":false},"axis":{"orient":"left","values":[-5,0,5],"tickSize":-4,"tickWidth":1.5,"tickColor":"black","labels":true,"labelExpr":"datum.value > 0 ? '+' + datum.value : (datum.value < 0 ? '\u2212' + abs(datum.value) : '')","labelFont":"Liberation Sans","labelFontSize":18,"labelColor":"black","labelPadding":6,"labelFlush":false,"domain":false,"grid":false,"title":["Tissue","Velocity","(mm/sec)"],"titleAngle":0,"titleAlign":"center","titleBaseline":"alphabetic","titleX":-69,"titleY":28,"titleFont":"Liberation Sans","titleFontSize":19,"titleFontWeight":"normal","titleColor":"black","titleLineHeight":26}}}},
 {"data":{"values":[{}]},"mark":{"type":"text","align":"right","baseline":"alphabetic","font":"Liberation Sans","fontSize":21,"fontWeight":"bold","color":"black"},"encoding":{
  "x":{"datum":2.984,"type":"quantitative","scale":{"domain":[-0.148,3.083],"nice":false,"zero":false},"axis":null},
  "y":{"datum":2.5,"type":"quantitative","scale":{"domain":[-6.36,6.25],"nice":false,"zero":false},"axis":null},
  "text":{"value":"Doppler Myogram"}}}
]}
]}
],
"config":{"view":{"stroke":"black","strokeWidth":3.5},"font":"Liberation Sans","axis":{"grid":false}}
}
